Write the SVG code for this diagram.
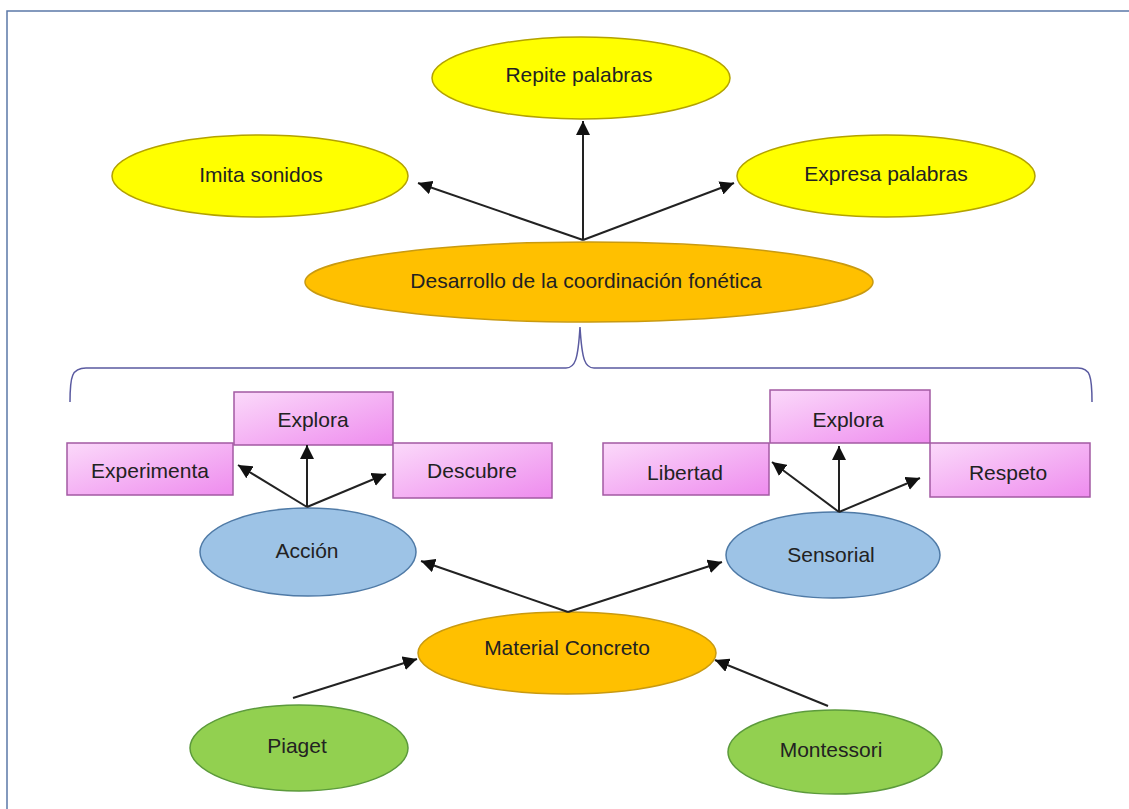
<svg xmlns="http://www.w3.org/2000/svg" width="1129" height="809" viewBox="0 0 1129 809">
<defs>
<linearGradient id="pink" x1="0" y1="0" x2="1" y2="1">
<stop offset="0" stop-color="#fbd9fa"/>
<stop offset="1" stop-color="#ee8cee"/>
</linearGradient>
<marker id="arr" viewBox="0 0 10 10" refX="10" refY="5" markerWidth="14" markerHeight="14" markerUnits="userSpaceOnUse" orient="auto">
<path d="M0,0 L10,5 L0,10 z" fill="#111"/>
</marker>
<style>
text{font-family:"Liberation Sans",Arial,sans-serif;font-size:21px;fill:#222;text-anchor:middle}
.yel{fill:#ffff00;stroke:#b3a200;stroke-width:1.5}
.org{fill:#ffc000;stroke:#c99a10;stroke-width:1.5}
.blu{fill:#9dc3e6;stroke:#4f7aa6;stroke-width:1.5}
.grn{fill:#92d050;stroke:#5c9a3c;stroke-width:1.5}
.box{fill:url(#pink);stroke:#a35aa3;stroke-width:1.5}
.con line{stroke:#222;stroke-width:2;marker-end:url(#arr)}
</style>
</defs>
<rect width="1129" height="809" fill="#fff"/>
<path d="M7,809 L7,11 L1129,11" fill="none" stroke="#5b78a8" stroke-width="1.5"/>
<path d="M70,402 C70,376 72,368 86,368 L566,368 C575,368 578,360 580,327 C582,360 585,368 594,368 L1078,368 C1090,368 1092,376 1092,402" fill="none" stroke="#5a5aa0" stroke-width="1.5"/>
<g id="n-repite"><ellipse class="yel" cx="581" cy="78" rx="149" ry="41"/><text x="579" y="82">Repite palabras</text></g>
<g id="n-imita"><ellipse class="yel" cx="260" cy="176" rx="148" ry="41"/><text x="261" y="182">Imita sonidos</text></g>
<g id="n-expresa"><ellipse class="yel" cx="886" cy="176" rx="149" ry="41"/><text x="886" y="181">Expresa palabras</text></g>
<g id="n-desarrollo"><ellipse class="org" cx="589" cy="282" rx="284" ry="40"/><text x="586" y="288">Desarrollo de la coordinación fonética</text></g>
<g id="n-explora1"><rect class="box" x="234" y="392" width="159" height="53"/><text x="313" y="427">Explora</text></g>
<g id="n-experimenta"><rect class="box" x="67" y="443" width="166" height="52"/><text x="150" y="478">Experimenta</text></g>
<g id="n-descubre"><rect class="box" x="393" y="443" width="159" height="55"/><text x="472" y="478">Descubre</text></g>
<g id="n-explora2"><rect class="box" x="770" y="390" width="160" height="53"/><text x="848" y="427">Explora</text></g>
<g id="n-libertad"><rect class="box" x="603" y="443" width="166" height="52"/><text x="685" y="480">Libertad</text></g>
<g id="n-respeto"><rect class="box" x="930" y="443" width="160" height="54"/><text x="1008" y="480">Respeto</text></g>
<g id="n-accion"><ellipse class="blu" cx="308" cy="552" rx="108" ry="44"/><text x="307" y="558">Acción</text></g>
<g id="n-sensorial"><ellipse class="blu" cx="833" cy="555" rx="107" ry="43"/><text x="831" y="562">Sensorial</text></g>
<g id="n-material"><ellipse class="org" cx="567" cy="653" rx="149" ry="41"/><text x="567" y="655">Material Concreto</text></g>
<g id="n-piaget"><ellipse class="grn" cx="299" cy="748" rx="109" ry="43"/><text x="297" y="753">Piaget</text></g>
<g id="n-montessori"><ellipse class="grn" cx="835" cy="752" rx="107" ry="42"/><text x="831" y="757">Montessori</text></g>
<g id="connectors" class="con">
<line x1="583" y1="240" x2="583" y2="121"/>
<line x1="583" y1="240" x2="418" y2="183"/>
<line x1="583" y1="240" x2="734" y2="183"/>
<line x1="307" y1="507" x2="307" y2="445"/>
<line x1="307" y1="507" x2="238" y2="465"/>
<line x1="307" y1="507" x2="386" y2="474"/>
<line x1="839" y1="512" x2="839" y2="446"/>
<line x1="839" y1="512" x2="772" y2="462"/>
<line x1="839" y1="512" x2="920" y2="478"/>
<line x1="568" y1="612" x2="421" y2="561"/>
<line x1="568" y1="612" x2="722" y2="562"/>
<line x1="293" y1="698" x2="417" y2="659"/>
<line x1="828" y1="706" x2="715" y2="660"/>
</g>
</svg>
